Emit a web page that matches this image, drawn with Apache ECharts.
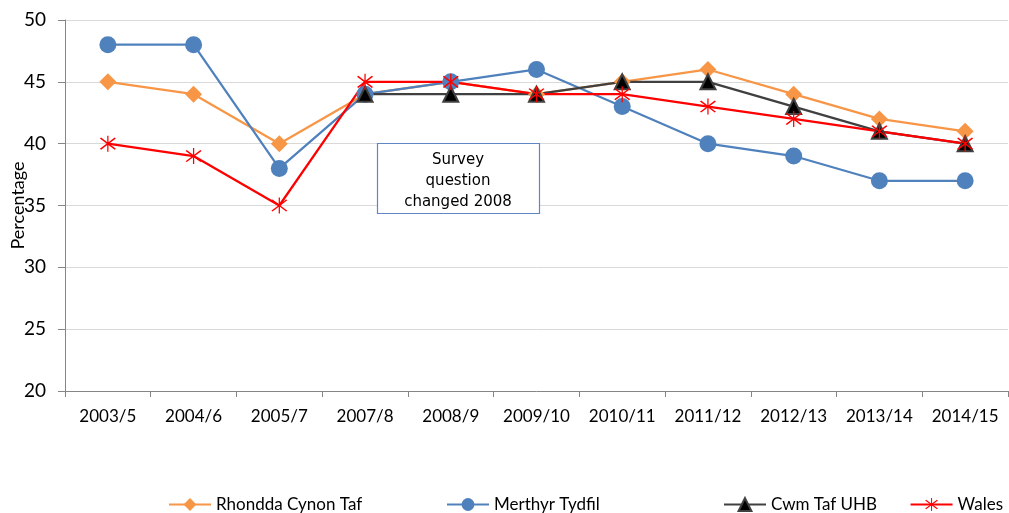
<!DOCTYPE html>
<html>
<head>
<meta charset="utf-8">
<script src="https://cdn.jsdelivr.net/npm/echarts@6/dist/echarts.min.js"></script>
<style>
  html, body { margin: 0; padding: 0; background: #fff; }
  #chart { width: 1009px; height: 513px; }
</style>
</head>
<body>
<div id="chart"></div>
<script>
const categories = ['2003/5', '2004/6', '2005/7', '2007/8', '2008/9', '2009/10', '2010/11', '2011/12', '2012/13', '2013/14', '2014/15'];
const rhondda = [45, 44, 40, 44, 45, 44, 45, 46, 44, 42, 41];
const merthyr = [48, 48, 38, 44, 45, 46, 43, 40, 39, 37, 37];
const cwmTaf = [null, null, null, 44, 44, 44, 45, 45, 43, 41, 40];
const wales = [40, 39, 35, 45, 45, 44, 44, 43, 42, 41, 40];
const yTicks = { min: 20, max: 50, interval: 5 };
const seriesNames = ['Rhondda Cynon Taf', 'Merthyr Tydfil', 'Cwm Taf UHB', 'Wales'];

// asterisk marker built from three thin bars
const asterisk = 'path://M-0.06,-1L0.06,-1L0.06,1L-0.06,1Z' +
  'M-0.643,-0.757L0.757,0.643L0.643,0.757L-0.757,-0.643Z' +
  'M0.757,-0.643L-0.643,0.757L-0.757,0.643L0.643,-0.757Z';

const chart = echarts.init(document.getElementById('chart'));

const font = 'Lato, Liberation Sans, Arial, sans-serif';

// one legend per series so each sits where the original puts it
const legendPos = [{ left: 163 }, { left: 441 }, { left: 718 }, { right: 1 }];
const legends = seriesNames.map((name, i) => Object.assign({
  data: [name],
  bottom: -5,
  itemWidth: 42,
  itemHeight: 16,
  itemGap: 4,
  textStyle: { fontFamily: font, fontSize: 17, color: '#000' }
}, legendPos[i]));

const option = {
  animation: false,
  grid: { left: 65, right: 1, top: 20, bottom: 122, containLabel: false, outerBoundsMode: 'none' },
  legend: legends,
  xAxis: {
    type: 'category',
    data: categories,
    boundaryGap: true,
    axisLine: { lineStyle: { color: '#868686', width: 1 } },
    axisTick: { show: true, length: 6, lineStyle: { color: '#868686' } },
    axisLabel: { fontFamily: font, fontSize: 17, color: '#000', margin: 17, interval: 0, hideOverlap: false }
  },
  yAxis: {
    type: 'value',
    min: yTicks.min,
    max: yTicks.max,
    interval: yTicks.interval,
    name: 'Percentage',
    nameLocation: 'middle',
    nameGap: 38,
    nameMoveOverlap: false,
    nameTextStyle: { fontFamily: font, fontSize: 18, color: '#000' },
    axisLine: { show: true, lineStyle: { color: '#868686', width: 1 } },
    axisTick: { show: true, length: 7, lineStyle: { color: '#868686' } },
    axisLabel: { fontFamily: font, fontSize: 19, color: '#000', margin: 19 },
    splitLine: { lineStyle: { color: '#d9d9d9', width: 1 } }
  },
  series: [
    {
      name: seriesNames[0],
      type: 'line',
      data: rhondda,
      symbol: 'diamond',
      symbolSize: 17,
      itemStyle: { color: '#f79646' },
      lineStyle: { color: '#f79646', width: 2.25 }
    },
    {
      name: seriesNames[1],
      type: 'line',
      data: merthyr,
      symbol: 'circle',
      symbolSize: 17,
      itemStyle: { color: '#4f81bd' },
      lineStyle: { color: '#4f81bd', width: 2.25 }
    },
    {
      name: seriesNames[2],
      type: 'line',
      data: cwmTaf,
      symbol: 'triangle',
      symbolSize: 15,
      itemStyle: { color: '#000', borderColor: '#404040', borderWidth: 2 },
      lineStyle: { color: '#404040', width: 2.25 }
    },
    {
      name: seriesNames[3],
      type: 'line',
      data: wales,
      symbol: asterisk,
      symbolSize: 16,
      itemStyle: { color: '#ff0000' },
      lineStyle: { color: '#ff0000', width: 2.25 }
    }
  ],
  graphic: [
    {
      type: 'rect',
      z: 100,
      shape: { x: 377.5, y: 143.5, width: 162, height: 70 },
      style: { fill: '#fff', stroke: '#5f87c6', lineWidth: 1.2 }
    },
    {
      type: 'text',
      z: 101,
      x: 458,
      y: 150,
      style: {
        text: 'Survey\nquestion\nchanged 2008',
        fontFamily: 'DejaVu Sans, Verdana, sans-serif',
        fontSize: 15,
        lineHeight: 21,
        fill: '#000',
        align: 'center',
        verticalAlign: 'top'
      }
    }
  ]
};

chart.setOption(option);
</script>
</body>
</html>
